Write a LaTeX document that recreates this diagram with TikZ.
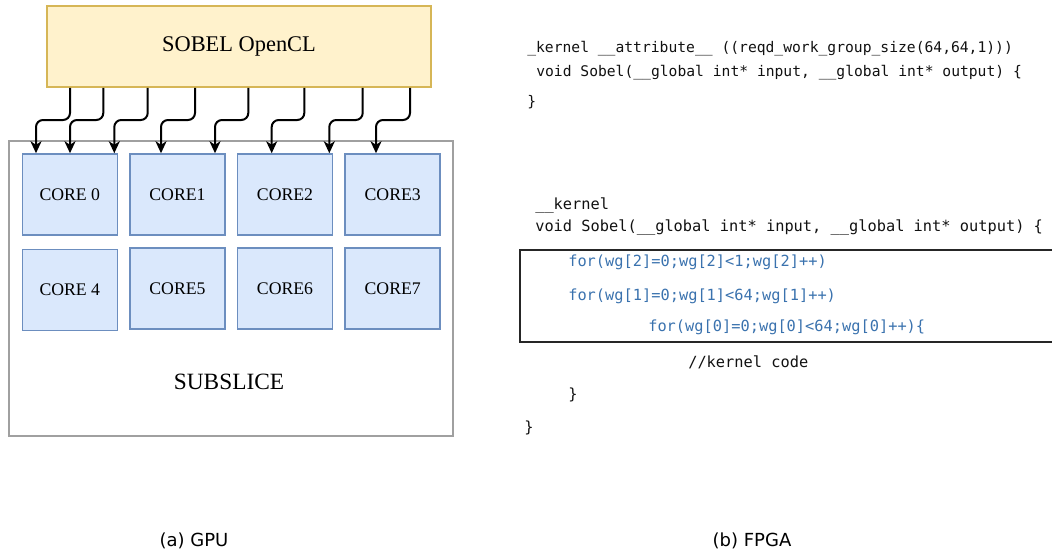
\documentclass[tikz,border=0pt]{standalone}
\usepackage{fontspec}
\setmainfont{Liberation Serif}
\newfontfamily\codefont{DejaVu Sans Mono}
\newfontfamily\capfont{DejaVu Sans}
\usetikzlibrary{arrows.meta}
\definecolor{yfill}{HTML}{FFF2CC}
\definecolor{ydraw}{HTML}{D6B656}
\definecolor{bfill}{HTML}{DAE8FC}
\definecolor{bdraw}{HTML}{6C8EBF}
\definecolor{gdraw}{HTML}{A0A0A0}
\definecolor{codeblue}{HTML}{3A72AE}
\definecolor{codeblack}{HTML}{111111}
\def\px{0.75pt}
\tikzset{
  corebox/.style={draw=bdraw, fill=bfill, line width=1.5*\px, minimum width=95*\px, minimum height=81*\px, inner sep=0pt, font=\fontsize{13.3pt}{15pt}\selectfont},
  arr/.style={draw, line width=2*\px, rounded corners=7*\px, -{Stealth[length=12*\px, width=11*\px, inset=3.5*\px]}},
  codeA/.style={anchor=west, inner sep=0pt, text height=0.75em, text depth=0.15em, text=codeblack, font=\codefont\fontsize{11pt}{13pt}\selectfont},
  codeB/.style={codeA, font=\codefont\fontsize{11.5pt}{13pt}\selectfont},
  codeC/.style={codeB, text=codeblue},
  caption/.style={inner sep=0pt, font=\capfont\fontsize{13.5pt}{15pt}\selectfont}
}
\begin{document}
\begin{tikzpicture}[x=\px, y=-\px]
\useasboundingbox (0,0) rectangle (1052,553);
% GPU side
\node[draw=gdraw, line width=1.5*\px, minimum width=444*\px, minimum height=295*\px, inner sep=0pt] (subslice) at (231,288.5) {};
\node[font=\fontsize{17.5pt}{20pt}\selectfont, inner sep=0pt] (sublabel) at (229,382) {SUBSLICE};
\node[draw=ydraw, fill=yfill, line width=1.5*\px, minimum width=384*\px, minimum height=81*\px, inner sep=0pt, font=\fontsize{16.8pt}{19pt}\selectfont] (sobel) at (239,46.5) {SOBEL OpenCL};
\node[corebox] (core0) at (69.8,194.5) {CORE 0};
\node[corebox] (core1) at (177.5,194.5) {CORE1};
\node[corebox] (core2) at (285,194.5) {CORE2};
\node[corebox] (core3) at (392.7,194.5) {CORE3};
\node[corebox] (core4) at (69.8,290) {CORE 4};
\node[corebox] (core5) at (177.5,288.5) {CORE5};
\node[corebox] (core6) at (285,288.5) {CORE6};
\node[corebox] (core7) at (392.7,288.5) {CORE7};
% arrows
\coordinate (h) at (0,120);
\coordinate (s1) at (70,0);    \coordinate (e1) at (36,0);
\coordinate (s2) at (103.3,0); \coordinate (e2) at (70,0);
\coordinate (s3) at (147.7,0); \coordinate (e3) at (114.3,0);
\coordinate (s4) at (195,0);   \coordinate (e4) at (161,0);
\coordinate (s5) at (248.3,0); \coordinate (e5) at (215,0);
\coordinate (s6) at (304.3,0); \coordinate (e6) at (271.7,0);
\coordinate (s7) at (362.7,0); \coordinate (e7) at (329.3,0);
\coordinate (s8) at (410,0);   \coordinate (e8) at (376,0);
\draw[arr] (sobel.south -| s1) |- (h -| e1) -- (core0.north -| e1);
\draw[arr] (sobel.south -| s2) |- (h -| e2) -- (core0.north -| e2);
\draw[arr] (sobel.south -| s3) |- (h -| e3) -- (core0.north -| e3);
\draw[arr] (sobel.south -| s4) |- (h -| e4) -- (core1.north -| e4);
\draw[arr] (sobel.south -| s5) |- (h -| e5) -- (core1.north -| e5);
\draw[arr] (sobel.south -| s6) |- (h -| e6) -- (core2.north -| e6);
\draw[arr] (sobel.south -| s7) |- (h -| e7) -- (core2.north -| e7);
\draw[arr] (sobel.south -| s8) |- (h -| e8) -- (core3.north -| e8);
% FPGA side code
\node[codeA] (t1) at (527,48) {\_kernel \_\_attribute\_\_ ((reqd\_work\_group\_size(64,64,1)))};
\node[codeA] (t2) at (536,72) {void Sobel(\_\_global int* input, \_\_global int* output) \{};
\node[codeA] (t3) at (527,102) {\}};
\node[codeB] (k1) at (535,205) {\_\_kernel};
\node[codeB] (k2) at (535,227) {void Sobel(\_\_global int* input, \_\_global int* output) \{};
\coordinate (bx1) at (520,250);
\coordinate (bx2) at (1052,342);
\draw[line width=1.3*\px, draw=black!85] (bx2 |- bx1) -- (bx1) -- (bx1 |- bx2) -- (bx2);
\node[codeC] (f2) at (568,262) {for(wg[2]=0;wg[2]<1;wg[2]++)};
\node[codeC] (f1) at (568,296) {for(wg[1]=0;wg[1]<64;wg[1]++)};
\node[codeC] (f0) at (648,327) {for(wg[0]=0;wg[0]<64;wg[0]++)\{};
\node[codeB] (kc) at (688,363) {//kernel code};
\node[codeB] (c1) at (568,395) {\}};
\node[codeB] (c2) at (524,428) {\}};
% captions
\node[caption] (capa) at (194,541) {(a) GPU};
\node[caption] (capb) at (752,541) {(b) FPGA};
\end{tikzpicture}
\end{document}
